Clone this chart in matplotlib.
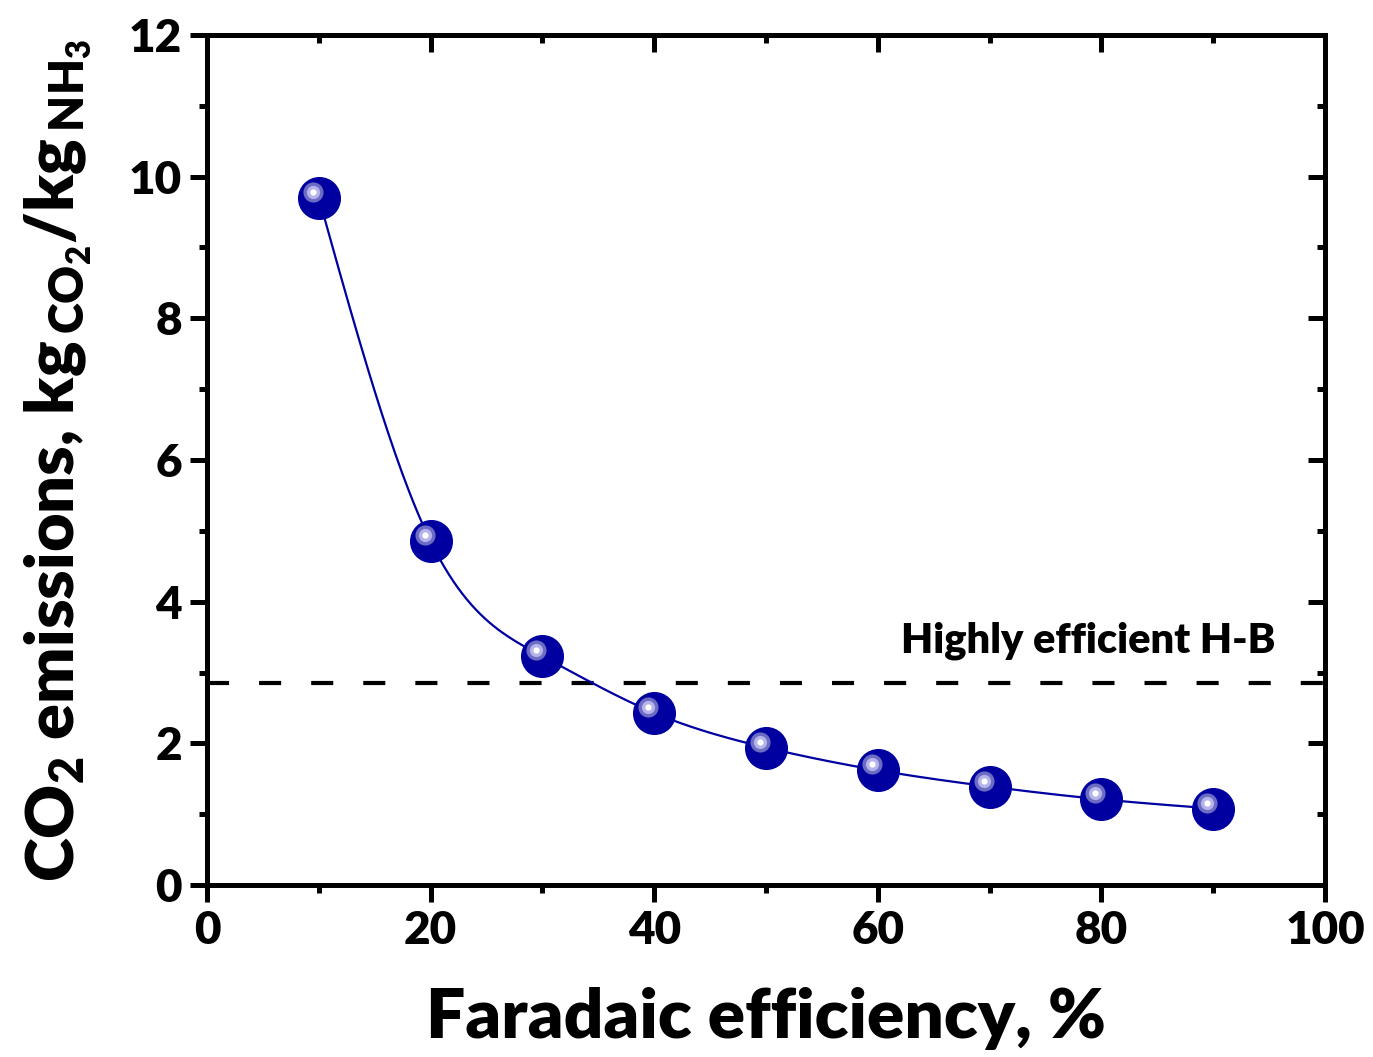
import numpy as np
import matplotlib
matplotlib.use("Agg")
import matplotlib.pyplot as plt
import matplotlib.transforms as mtransforms
from matplotlib.ticker import MultipleLocator

# Faradaic efficiency (%) and the resulting CO2 emissions (kg CO2 per kg NH3)
faradaic_eff = [10, 20, 30, 40, 50, 60, 70, 80, 90]
co2_emissions = [9.70, 4.85, 3.23, 2.43, 1.94, 1.62, 1.39, 1.21, 1.08]
hb_reference = 2.85
hb_label = "Highly efficient H-B"

FONT = "Lato"
WEIGHT = "heavy"
plt.rcParams["font.family"] = [FONT, "DejaVu Sans"]
plt.rcParams["font.weight"] = WEIGHT
plt.rcParams["mathtext.fontset"] = "custom"
plt.rcParams["mathtext.rm"] = f"{FONT}:{WEIGHT}"
plt.rcParams["mathtext.it"] = f"{FONT}:{WEIGHT}"
plt.rcParams["mathtext.bf"] = f"{FONT}:{WEIGHT}"

BLUE = "#0000a0"


def natural_spline(x, y, n=400):
    """Natural cubic spline through the points, sampled densely."""
    x = np.asarray(x, float)
    y = np.asarray(y, float)
    m = len(x)
    h = np.diff(x)
    A = np.zeros((m, m))
    b = np.zeros(m)
    A[0, 0] = A[-1, -1] = 1.0
    for i in range(1, m - 1):
        A[i, i - 1] = h[i - 1]
        A[i, i] = 2 * (h[i - 1] + h[i])
        A[i, i + 1] = h[i]
        b[i] = 3 * ((y[i + 1] - y[i]) / h[i] - (y[i] - y[i - 1]) / h[i - 1])
    c = np.linalg.solve(A, b)
    xs = np.linspace(x[0], x[-1], n)
    idx = np.clip(np.searchsorted(x, xs) - 1, 0, m - 2)
    dx = xs - x[idx]
    bb = (y[idx + 1] - y[idx]) / h[idx] - h[idx] * (2 * c[idx] + c[idx + 1]) / 3
    dd = (c[idx + 1] - c[idx]) / (3 * h[idx])
    ys = y[idx] + bb * dx + c[idx] * dx ** 2 + dd * dx ** 3
    return xs, ys


fig = plt.figure(figsize=(13.73, 10.57), dpi=100)
ax = fig.add_axes([0.1508, 0.1627, 0.9650 - 0.1508, 0.9669 - 0.1627])

# reference line for Haber-Bosch
ax.axhline(hb_reference, color="black", lw=3.0, dashes=(5.3, 7.2), zorder=2)
ax.text(95.6, hb_reference + 0.6, hb_label, ha="right", va="center",
        fontsize=30, fontweight=WEIGHT)

# smooth curve through the points
xs, ys = natural_spline(faradaic_eff, co2_emissions)
ax.plot(xs, ys, color=BLUE, lw=1.6, zorder=3)

# glossy sphere markers: body plus offset highlight rings
ax.plot(faradaic_eff, co2_emissions, ls="none", marker="o", ms=31,
        mfc=BLUE, mec=BLUE, mew=0, zorder=4)
hl = mtransforms.offset_copy(ax.transData, fig=fig, x=-6, y=6, units="dots")
for size, col in [(14.5, "#6c6cc4"), (9.5, "#b4b4ea"), (4.5, "#ffffff")]:
    ax.plot(faradaic_eff, co2_emissions, ls="none", marker="o", ms=size,
            mfc=col, mec=col, mew=0, transform=hl, zorder=5)

ax.set_xlim(0, 100)
ax.set_ylim(0, 12)
ax.xaxis.set_major_locator(MultipleLocator(20))
ax.xaxis.set_minor_locator(MultipleLocator(10))
ax.yaxis.set_major_locator(MultipleLocator(2))
ax.yaxis.set_minor_locator(MultipleLocator(1))

for s in ax.spines.values():
    s.set_linewidth(3.6)

ax.tick_params(which="both", direction="out", width=3.6, top=False, right=False)
ax.tick_params(which="major", length=12, labelsize=33, pad=6)
ax.tick_params(which="minor", length=6)

# inward ticks on the top and right edges
sec_x = ax.secondary_xaxis("top")
sec_x.xaxis.set_major_locator(MultipleLocator(20))
sec_x.xaxis.set_minor_locator(MultipleLocator(10))
sec_x.tick_params(which="both", direction="in", width=3.6, labeltop=False)
sec_x.tick_params(which="major", length=12)
sec_x.tick_params(which="minor", length=6)
sec_x.spines["top"].set_linewidth(3.6)
sec_y = ax.secondary_yaxis("right")
sec_y.yaxis.set_major_locator(MultipleLocator(2))
sec_y.yaxis.set_minor_locator(MultipleLocator(1))
sec_y.tick_params(which="both", direction="in", width=3.6, labelright=False)
sec_y.tick_params(which="major", length=12)
sec_y.tick_params(which="minor", length=6)
sec_y.spines["right"].set_linewidth(3.6)

for lab in ax.get_xticklabels() + ax.get_yticklabels():
    lab.set_fontweight(WEIGHT)

ax.set_xlabel("Faradaic efficiency, %", fontsize=50, fontweight=WEIGHT, labelpad=26)
ax.set_ylabel(r"$\mathrm{CO_2}$ emissions, kg$\mathrm{_{\,CO_2}}$/kg$\mathrm{_{\,NH_3}}$",
              fontsize=48, fontweight=WEIGHT, labelpad=26)

fig.savefig("out.png", dpi=100)
